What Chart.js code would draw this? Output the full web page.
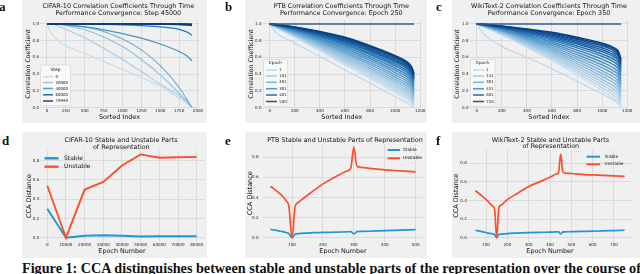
<!DOCTYPE html>
<html><head><meta charset="utf-8">
<script src="https://cdn.jsdelivr.net/npm/chart.js@4.4.1/dist/chart.umd.min.js"></script>
<style>
html,body{margin:0;padding:0;background:#fff;width:640px;height:274px;overflow:hidden;position:relative;}
canvas{position:absolute;background:#f0f0f0;}
.lbl{position:absolute;font:bold 13px "Liberation Serif";line-height:13px;color:#111;}
#cap{position:absolute;left:22px;top:261px;white-space:nowrap;font:bold 14.2px "Liberation Serif";line-height:14px;color:#111;}
</style></head><body>
<canvas id="ca" width="185" height="123" style="left:22px;top:0px"></canvas>
<canvas id="cb" width="182" height="123" style="left:245px;top:0px"></canvas>
<canvas id="cc" width="188" height="123" style="left:452px;top:0px"></canvas>
<canvas id="cd" width="185" height="126" style="left:22px;top:132px"></canvas>
<canvas id="ce" width="182" height="126" style="left:245px;top:132px"></canvas>
<canvas id="cf" width="188" height="126" style="left:452px;top:132px"></canvas>
<div class="lbl" style="left:-1px;top:0px">a</div>
<div class="lbl" style="left:225px;top:0px">b</div>
<div class="lbl" style="left:436px;top:0px">c</div>
<div class="lbl" style="left:2px;top:134px">d</div>
<div class="lbl" style="left:225px;top:134px">e</div>
<div class="lbl" style="left:436px;top:134px">f</div>
<div id="cap">Figure 1: CCA distinguishes between stable and unstable parts of the representation over the course of</div>
<script>
// ---------------- DATA ----------------
// Panel a: CIFAR-10 correlation coefficient curves (sorted index -> coefficient)
const aIndex = [0, 30, 100, 250, 500, 750, 1000, 1250, 1500, 1750, 1850, 1920];
const aCurves = [
  [1.00, 0.93, 0.84, 0.74, 0.645, 0.55, 0.455, 0.36, 0.255, 0.11, 0.05, 0.00],
  [1.00, 1.00, 0.99, 0.935, 0.835, 0.71, 0.575, 0.43, 0.28, 0.14, 0.07, 0.00],
  [1.00, 1.00, 0.997, 0.983, 0.93, 0.845, 0.73, 0.575, 0.39, 0.17, 0.075, 0.00],
  [1.00, 1.00, 0.998, 0.993, 0.965, 0.91, 0.82, 0.69, 0.50, 0.24, 0.10, 0.00],
  [1.00, 1.00, 0.998, 0.99, 0.965, 0.93, 0.885, 0.83, 0.76, 0.67, 0.62, 0.56],
  [1.00, 1.00, 1.00, 1.00, 0.998, 0.995, 0.99, 0.98, 0.965, 0.935, 0.905, 0.865],
  [1.00, 1.00, 1.00, 1.00, 1.00, 1.00, 1.00, 1.00, 0.998, 0.995, 0.99, 0.982],
  [1.00, 1.00, 1.00, 1.00, 1.00, 1.00, 1.00, 1.00, 1.00, 0.998, 0.995, 0.99],
  [1.00, 1.00, 1.00, 1.00, 1.00, 1.00, 1.00, 1.00, 1.00, 1.00, 1.00, 1.00],
  [1.00, 1.00, 1.00, 1.00, 1.00, 1.00, 1.00, 1.00, 0.999, 0.996, 0.993, 0.987]
];
const aLegend = ['0', '20000', '40000', '60000', '79999'];
const aXTicks = [0, 250, 500, 750, 1000, 1250, 1500, 1750, 2000];
const aXLabels = ['0', '250', '500', '750', '1000', '1250', '1500', '1750', '2000'];

// Panel b: PTB
const bIndex = [0, 50, 200, 400, 600, 800, 1000, 1100, 1130, 1150];
const bFirst = [1.00, 0.90, 0.77, 0.61, 0.45, 0.29, 0.13, 0.05, 0.02, 0.00];
const bBand = [
  [1, 0.960, 0.840, 0.680, 0.510, 0.350, 0.180, 0.090, 0.050, 0.000],
  [1, 0.962, 0.848, 0.694, 0.530, 0.373, 0.206, 0.117, 0.076, 0.025],
  [1, 0.964, 0.855, 0.708, 0.550, 0.397, 0.233, 0.144, 0.103, 0.049],
  [1, 0.966, 0.863, 0.721, 0.569, 0.420, 0.259, 0.171, 0.129, 0.074],
  [1, 0.968, 0.870, 0.735, 0.589, 0.444, 0.286, 0.198, 0.156, 0.098],
  [1, 0.971, 0.878, 0.749, 0.609, 0.467, 0.312, 0.225, 0.182, 0.123],
  [1, 0.973, 0.885, 0.763, 0.629, 0.490, 0.338, 0.252, 0.208, 0.148],
  [1, 0.975, 0.893, 0.777, 0.649, 0.514, 0.365, 0.279, 0.235, 0.172],
  [1, 0.977, 0.900, 0.790, 0.668, 0.537, 0.391, 0.306, 0.261, 0.197],
  [1, 0.979, 0.908, 0.804, 0.688, 0.561, 0.418, 0.333, 0.288, 0.221],
  [1, 0.981, 0.915, 0.818, 0.708, 0.584, 0.444, 0.360, 0.314, 0.246],
  [1, 0.983, 0.923, 0.832, 0.728, 0.607, 0.470, 0.387, 0.340, 0.271],
  [1, 0.985, 0.930, 0.846, 0.748, 0.631, 0.497, 0.414, 0.367, 0.295],
  [1, 0.987, 0.936, 0.857, 0.764, 0.650, 0.519, 0.437, 0.389, 0.316],
  [1, 0.989, 0.943, 0.869, 0.781, 0.670, 0.541, 0.459, 0.411, 0.336],
  [1, 0.990, 0.948, 0.878, 0.794, 0.685, 0.558, 0.477, 0.428, 0.353],
  [1, 0.992, 0.953, 0.887, 0.807, 0.701, 0.576, 0.495, 0.446, 0.369],
  [1, 0.993, 0.958, 0.896, 0.820, 0.717, 0.594, 0.513, 0.464, 0.385],
  [1, 0.994, 0.961, 0.903, 0.830, 0.728, 0.607, 0.527, 0.477, 0.398],
  [1, 0.995, 0.965, 0.910, 0.840, 0.740, 0.620, 0.540, 0.490, 0.410]
];
const bSelf = [1, 1, 1, 1, 1, 1, 1, 1, 1, 1];
const bLegend = ['1', '101', '201', '301', '401', '500'];

// Panel c: WikiText-2
const cIndex = [0, 50, 200, 400, 600, 800, 1000, 1100, 1130, 1150];
const cFirst = [1.00, 0.89, 0.73, 0.60, 0.465, 0.315, 0.16, 0.08, 0.04, 0.00];
const cBand = [
  [1, 0.970, 0.870, 0.720, 0.560, 0.390, 0.200, 0.100, 0.055, 0.000],
  [1, 0.972, 0.876, 0.733, 0.580, 0.417, 0.234, 0.137, 0.092, 0.035],
  [1, 0.973, 0.883, 0.746, 0.601, 0.444, 0.268, 0.173, 0.129, 0.070],
  [1, 0.975, 0.889, 0.760, 0.621, 0.471, 0.303, 0.210, 0.166, 0.104],
  [1, 0.977, 0.895, 0.773, 0.642, 0.498, 0.337, 0.246, 0.203, 0.139],
  [1, 0.978, 0.902, 0.786, 0.662, 0.525, 0.371, 0.283, 0.240, 0.174],
  [1, 0.980, 0.908, 0.799, 0.682, 0.552, 0.405, 0.320, 0.276, 0.209],
  [1, 0.982, 0.914, 0.812, 0.703, 0.579, 0.439, 0.356, 0.313, 0.244],
  [1, 0.983, 0.920, 0.826, 0.723, 0.606, 0.474, 0.393, 0.350, 0.278],
  [1, 0.985, 0.927, 0.839, 0.744, 0.633, 0.508, 0.429, 0.387, 0.313],
  [1, 0.987, 0.933, 0.852, 0.764, 0.660, 0.542, 0.466, 0.424, 0.348],
  [1, 0.988, 0.939, 0.865, 0.784, 0.687, 0.576, 0.503, 0.461, 0.383],
  [1, 0.990, 0.946, 0.878, 0.805, 0.714, 0.610, 0.539, 0.498, 0.418],
  [1, 0.992, 0.951, 0.889, 0.822, 0.737, 0.639, 0.570, 0.529, 0.447],
  [1, 0.993, 0.956, 0.900, 0.839, 0.759, 0.667, 0.600, 0.559, 0.476],
  [1, 0.994, 0.960, 0.909, 0.852, 0.777, 0.690, 0.625, 0.584, 0.499],
  [1, 0.995, 0.965, 0.918, 0.866, 0.795, 0.713, 0.649, 0.609, 0.522],
  [1, 0.996, 0.969, 0.927, 0.880, 0.813, 0.736, 0.673, 0.633, 0.545],
  [1, 0.997, 0.972, 0.933, 0.890, 0.827, 0.753, 0.692, 0.652, 0.563],
  [1, 0.998, 0.975, 0.940, 0.900, 0.840, 0.770, 0.710, 0.670, 0.580]
];
const cSelf = [1, 1, 1, 1, 1, 1, 1, 1, 1, 1];
const cLegend = ['1', '151', '301', '451', '601', '750'];
const bcXTicks = [0, 200, 400, 600, 800, 1000, 1200];
const bcXLabels = ['0', '200', '400', '600', '800', '1000', '1200'];
const topYTicks = [0, 0.2, 0.4, 0.6, 0.8, 1.0];
const topYLabels = ['0.0', '0.2', '0.4', '0.6', '0.8', '1.0'];

// Panel d: CIFAR-10 stable / unstable
const dEpochs = [0, 10000, 20000, 30000, 40000, 50000, 60000, 70000, 80000];
const dStable = [0.30, 0.00, 0.02, 0.025, 0.02, 0.012, 0.015, 0.015, 0.015];
const dUnstable = [0.54, 0.00, 0.50, 0.58, 0.75, 0.865, 0.83, 0.835, 0.84];
const dXTicks = [0, 10000, 20000, 30000, 40000, 50000, 60000, 70000, 80000];
const dXLabels = ['0', '10000', '20000', '30000', '40000', '50000', '60000', '70000', '80000'];

// Panel e: PTB stable / unstable
const eEpochs = [30, 40, 50, 60, 70, 80, 90, 100, 110, 120, 140, 160, 180, 200, 225, 250, 275, 290, 300, 310, 325, 350, 400, 450, 500];
const eStable = [0.083, 0.078, 0.072, 0.066, 0.06, 0.052, 0.04, 0.0, 0.035, 0.04, 0.045, 0.048, 0.05, 0.052, 0.054, 0.056, 0.058, 0.06, 0.038, 0.06, 0.062, 0.064, 0.07, 0.075, 0.08];
const eUnstable = [0.51, 0.49, 0.465, 0.44, 0.41, 0.37, 0.31, 0.0, 0.31, 0.35, 0.40, 0.445, 0.49, 0.535, 0.58, 0.62, 0.66, 0.69, 0.90, 0.71, 0.70, 0.69, 0.675, 0.665, 0.655];
const eXTicks = [100, 200, 300, 400, 500];
const eXLabels = ['100', '200', '300', '400', '500'];

// Panel f: WikiText-2 stable / unstable
const fEpochs = [50, 70, 90, 110, 130, 140, 150, 160, 170, 200, 250, 300, 350, 400, 430, 440, 450, 460, 470, 500, 550, 600, 650, 700, 750];
const fStable = [0.08, 0.07, 0.06, 0.05, 0.04, 0.033, 0.0, 0.035, 0.038, 0.045, 0.05, 0.055, 0.058, 0.06, 0.062, 0.063, 0.04, 0.062, 0.063, 0.065, 0.068, 0.07, 0.074, 0.077, 0.08];
const fUnstable = [0.505, 0.47, 0.43, 0.39, 0.34, 0.31, 0.0, 0.32, 0.35, 0.41, 0.48, 0.55, 0.60, 0.65, 0.685, 0.70, 0.90, 0.71, 0.695, 0.69, 0.68, 0.675, 0.67, 0.665, 0.66];
const fXTicks = [100, 200, 300, 400, 500, 600, 700];
const fXLabels = ['100', '200', '300', '400', '500', '600', '700'];
const botYTicks = [0, 0.2, 0.4, 0.6, 0.8];
const botYLabels = ['0.0', '0.2', '0.4', '0.6', '0.8'];
const seriesNames = ['Stable', 'Unstable'];

const titlesA = ['CIFAR-10 Correlation Coefficients Through Time', 'Performance Convergence: Step 45000'];
const titlesB = ['PTB Correlation Coefficients Through Time', 'Performance Convergence: Epoch 250'];
const titlesC = ['WikiText-2 Correlation Coefficients Through Time', 'Performance Convergence: Epoch 350'];
const titlesD = ['CIFAR-10 Stable and Unstable Parts', 'of Representation'];
const titlesE = ['PTB Stable and Unstable Parts of Representation'];
const titlesF = ['WikiText-2 Stable and Unstable Parts', 'of Representation'];

// ---------------- STYLE ----------------
const FAM = 'DejaVu Sans';
const aColors = ['#c3daee', '#a6cce6', '#8cc0e0', '#6caed7', '#4494c8', '#2a7aba', '#1a62a8', '#0f5298', '#0b4a8e', '#083c7c'];
const aWidths = [1.1, 1.1, 1.1, 1.1, 1.2, 1.3, 1.6, 1.6, 1.6, 1.6];
const bandColors = ['#cadff0', '#bed8ec', '#b2d2e9', '#a6cbe5', '#9ac4e1', '#8dbddd', '#80b5d9', '#72acd5', '#64a3d0', '#569acb', '#4991c5', '#3d87bf', '#327db8', '#2873b1', '#1f69aa', '#1860a2', '#12579a', '#0e4f92', '#0b4789', '#083f80'];
const firstColor = '#bcd6ec';
const selfColor = '#2e5f9c';
const aLegendColors = ['#c6dbef', '#9ac8e2', '#5aa2cf', '#2a77b7', '#24538e'];
const bcLegendColors = ['#c6dbef', '#a5cde5', '#80b6da', '#4f9acb', '#2a78b8', '#35598c'];
const BLUE = '#1f96d8', RED = '#fc4f30';
const TITLE_SIZE = 6.4, TICK_SIZE = 4.1, TEXT = '#111';

function line(xs, ys, color, width, order, smooth) {
  return { data: xs.map((x, i) => ({ x: x, y: ys[i] })), borderColor: color, borderWidth: width,
    pointRadius: 0, fill: false, order: order,
    cubicInterpolationMode: smooth ? 'monotone' : 'default', tension: 0 };
}

const specs = {
  ca: { box: { x: 22, y: 0, w: 185, h: 123 }, area: { l: 39.75, r: 199.2, t: 19.8, b: 108.3 },
    xr: [-96, 2016], yr: [-0.01, 1.05], xt: aXTicks, xl: aXLabels, yt: topYTicks, yl: topYLabels,
    xtitle: 'Sorted Index', ytitle: 'Correlation Coefficient', xs: 6.45, ys: 6.2, xtc: 110.6, xto: 6, yto: 6.8, ytr: 39,
    titles: [[titlesA[0], 118.3, 6], [titlesA[1], 118.3, 13]],
    legend: { box: [40.5, 65, 70.5, 105.5], title: ['Step', 55.5, 70], ys: [76.7, 82.5, 88.5, 94.8, 101],
      lx: [43, 53], tx: 55.5, labels: aLegend, colors: aLegendColors, size: 3.9, tsize: 4.4, lw: 1.6 },
    datasets: aCurves.map((c, i) => line(aIndex, c, aColors[i], aWidths[i], -i, true)) },
  cb: { box: { x: 245, y: 0, w: 182, h: 123 }, area: { l: 262.5, r: 421.2, t: 19.8, b: 108.3 },
    xr: [-57.5, 1207.5], yr: [-0.01, 1.05], xt: bcXTicks, xl: bcXLabels, yt: topYTicks, yl: topYLabels,
    xtitle: 'Sorted Index', ytitle: 'Correlation Coefficient', xs: 6.45, ys: 6.2, xtc: 110.6, xto: 6, yto: 6.3, ytr: 261.5,
    titles: [[titlesB[0], 341.3, 6], [titlesB[1], 341.3, 13]],
    legend: { box: [263.5, 59.5, 287.5, 106], title: ['Epoch', 275.5, 63.3], ys: [70, 76, 82.3, 88.7, 95, 101.5],
      lx: [266, 277], tx: 279.3, labels: bLegend, colors: bcLegendColors, size: 3.9, tsize: 4.2, lw: 1.6 },
    datasets: [line(bIndex, bFirst, firstColor, 1.1, 10, true)]
      .concat(bBand.map((c, i) => line(bIndex, c, bandColors[i], 1.5, -i, true)))
      .concat([line(bIndex, bSelf, selfColor, 1.6, -30, true)]) },
  cc: { box: { x: 452, y: 0, w: 188, h: 123 }, area: { l: 469.5, r: 628.2, t: 19.8, b: 108.3 },
    xr: [-57.5, 1207.5], yr: [-0.01, 1.05], xt: bcXTicks, xl: bcXLabels, yt: topYTicks, yl: topYLabels,
    xtitle: 'Sorted Index', ytitle: 'Correlation Coefficient', xs: 6.45, ys: 6.2, xtc: 110.6, xto: 6, yto: 5.5, ytr: 468.5,
    titles: [[titlesC[0], 549, 6], [titlesC[1], 549, 13]],
    legend: { box: [470.5, 59.5, 495, 106], title: ['Epoch', 482.7, 63.3], ys: [70, 76, 82.3, 88.7, 95, 101.5],
      lx: [473, 484], tx: 486.3, labels: cLegend, colors: bcLegendColors, size: 3.9, tsize: 4.2, lw: 1.6 },
    datasets: [line(cIndex, cFirst, firstColor, 1.1, 10, true)]
      .concat(cBand.map((c, i) => line(cIndex, c, bandColors[i], 1.5, -i, true)))
      .concat([line(cIndex, cSelf, selfColor, 1.6, -30, true)]) },
  cd: { box: { x: 22, y: 132, w: 185, h: 126 }, area: { l: 39.8, r: 204.2, t: 150.2, b: 241.84 },
    xr: [-4000, 84000], yr: [-0.043, 0.909], xt: dXTicks, xl: dXLabels, yt: botYTicks, yl: botYLabels,
    xtitle: 'Epoch Number', ytitle: 'CCA Distance', xs: 6.4, ys: 6.5, xtc: 245.2, xto: 7, yto: 7.2, ytr: 39.3,
    titles: [[titlesD[0], 121, 140], [titlesD[1], 121.3, 147]],
    legend: { ys: [158.3, 166.7], lx: [44.5, 58.5], tx: 64, labels: seriesNames, colors: [BLUE, RED], size: 6, lw: 2.4 },
    datasets: [line(dEpochs, dStable, BLUE, 1.9, 2, false), line(dEpochs, dUnstable, RED, 1.9, 1, false)] },
  ce: { box: { x: 245, y: 132, w: 182, h: 126 }, area: { l: 263.1, r: 422.9, t: 144.2, b: 242.2 },
    xr: [6.5, 523.5], yr: [-0.045, 0.93], xt: eXTicks, xl: eXLabels, yt: botYTicks, yl: botYLabels,
    xtitle: 'Epoch Number', ytitle: 'CCA Distance', xs: 6.4, ys: 6.5, xtc: 245.2, xto: 7, yto: 5.5, ytr: 258.5,
    titles: [[titlesE[0], 345, 140]],
    legend: { ys: [150, 158.3], lx: [387.5, 400], tx: 403, labels: seriesNames, colors: [BLUE, RED], size: 4.3, lw: 2 },
    datasets: [line(eEpochs, eStable, BLUE, 1.7, 2, true), line(eEpochs, eUnstable, RED, 1.7, 1, true)] },
  cf: { box: { x: 452, y: 132, w: 188, h: 126 }, area: { l: 467.9, r: 632.1, t: 149.8, b: 241.9 },
    xr: [15, 785], yr: [-0.045, 0.945], xt: fXTicks, xl: fXLabels, yt: botYTicks, yl: botYLabels,
    xtitle: 'Epoch Number', ytitle: 'CCA Distance', xs: 6.4, ys: 6.5, xtc: 245.2, xto: 7, yto: 4.5, ytr: 466.8,
    titles: [[titlesF[0], 550.4, 140], [titlesF[1], 550.8, 146.7]],
    legend: { ys: [156.7, 164.3], lx: [586.5, 600], tx: 604.5, labels: seriesNames, colors: [BLUE, RED], size: 4.3, lw: 2 },
    datasets: [line(fEpochs, fStable, BLUE, 1.7, 2, true), line(fEpochs, fUnstable, RED, 1.7, 1, true)] }
};

const overlay = {
  id: 'overlay',
  afterDatasetsDraw(chart) {
    const s = specs[chart.canvas.id];
    const ctx = chart.ctx, ox = s.box.x, oy = s.box.y;
    ctx.save();
    ctx.fillStyle = TEXT;
    ctx.textAlign = 'center';
    ctx.textBaseline = 'middle';
    ctx.font = TITLE_SIZE + 'px "' + FAM + '"';
    s.titles.forEach(t => ctx.fillText(t[0], t[1] - ox, t[2] - oy));
    const lg = s.legend;
    if (lg.box) {
      const [x0, y0, x1, y1] = lg.box;
      ctx.beginPath();
      if (ctx.roundRect) ctx.roundRect(x0 - ox, y0 - oy, x1 - x0, y1 - y0, 1.5);
      else ctx.rect(x0 - ox, y0 - oy, x1 - x0, y1 - y0);
      ctx.fillStyle = 'rgba(250,250,250,0.85)';
      ctx.fill();
      ctx.strokeStyle = '#d2d2d2';
      ctx.lineWidth = 0.6;
      ctx.stroke();
      ctx.fillStyle = TEXT;
      ctx.font = lg.tsize + 'px "' + FAM + '"';
      ctx.fillText(lg.title[0], lg.title[1] - ox, lg.title[2] - oy);
    }
    ctx.textAlign = 'left';
    ctx.font = lg.size + 'px "' + FAM + '"';
    lg.labels.forEach((lab, i) => {
      const y = lg.ys[i] - oy;
      ctx.beginPath();
      ctx.moveTo(lg.lx[0] - ox, y);
      ctx.lineTo(lg.lx[1] - ox, y);
      ctx.strokeStyle = lg.colors[i];
      ctx.lineWidth = lg.lw;
      ctx.stroke();
      ctx.fillStyle = TEXT;
      ctx.fillText(lab, lg.tx - ox, y);
    });
    ctx.restore();
  }
};

Object.keys(specs).forEach(id => {
  const s = specs[id];
  const B = s.box, A = s.area;
  const tickFont = { family: FAM, size: TICK_SIZE, lineHeight: 1 };
  const grid = { color: '#d6d6d6', lineWidth: 0.8, drawTicks: false };
  new Chart(document.getElementById(id), {
    type: 'line',
    data: { datasets: s.datasets },
    options: {
      responsive: false, animation: false, devicePixelRatio: 1,
      layout: { padding: { left: 0, right: (B.x + B.w) - A.r, top: A.t - B.y, bottom: 0 } },
      plugins: { legend: { display: false }, tooltip: { enabled: false }, title: { display: false } },
      elements: { point: { radius: 0 } },
      scales: {
        x: {
          type: 'linear', min: s.xr[0], max: s.xr[1],
          afterBuildTicks: sc => { sc.ticks = s.xt.map(v => ({ value: v })); },
          afterFit: sc => { sc.height = (B.y + B.h) - A.b; sc.paddingLeft = 0; sc.paddingRight = 0; sc.paddingTop = 0; sc.paddingBottom = 0; },
          ticks: { autoSkip: false, maxRotation: 0, minRotation: 0, color: '#222', font: tickFont,
            padding: Math.max(0, s.xtc - A.b - TICK_SIZE / 2), callback: (v, i) => s.xl[i] },
          grid: grid, border: { display: false },
          title: { display: true, text: s.xtitle, color: TEXT, font: { family: FAM, size: s.xs, lineHeight: 1 },
            padding: { top: 0, bottom: s.xto - s.xs / 2 } }
        },
        y: {
          type: 'linear', min: s.yr[0], max: s.yr[1],
          afterBuildTicks: sc => { sc.ticks = s.yt.map(v => ({ value: v })); },
          afterFit: sc => { sc.width = A.l - B.x; sc.paddingLeft = 0; sc.paddingRight = 0; sc.paddingTop = 0; sc.paddingBottom = 0; },
          ticks: { autoSkip: false, color: '#222', font: tickFont, padding: A.l - s.ytr, callback: (v, i) => s.yl[i] },
          grid: grid, border: { display: false },
          title: { display: true, text: s.ytitle, color: TEXT, font: { family: FAM, size: s.ys, lineHeight: 1 },
            padding: { top: Math.max(0, s.yto - s.ys / 2), bottom: 0 } }
        }
      }
    },
    plugins: [overlay]
  });
});
</script>
</body></html>
